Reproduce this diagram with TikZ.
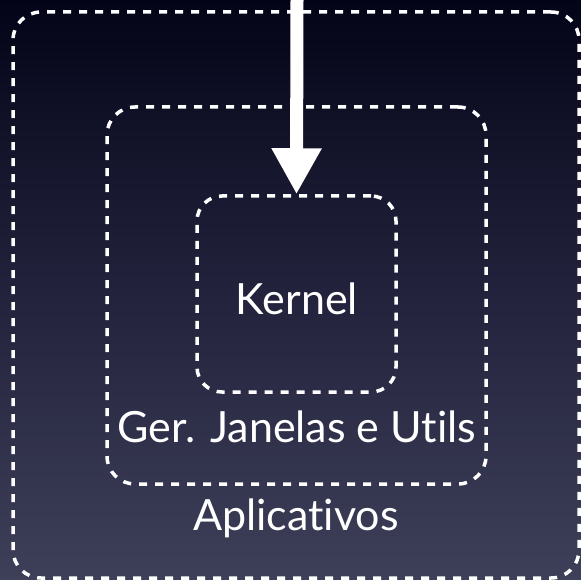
\documentclass[tikz,border=0pt]{standalone}
\usepackage{fontspec}
\setmainfont{Lato}[Ligatures={NoCommon,NoRequired,NoContextual}]
\usetikzlibrary{arrows.meta,positioning}

\definecolor{bgtop}{RGB}{4,4,24}
\definecolor{bgmid}{RGB}{34,34,60}
\definecolor{bgbottom}{RGB}{62,63,88}

\begin{document}
\begin{tikzpicture}[
            x=1pt, y=-1pt,
            layer/.style={
                draw=white,
                line width=3.5pt,
                dash pattern=on 8pt off 8pt,
                rounded corners=28pt,
                inner sep=0pt
            },
            caption/.style={
                text=white,
                anchor=base,
                font=\fontsize{43}{47}\selectfont
            },
            flow/.style={
                draw=white,
                line width=13pt,
                -{Triangle[width=47pt,length=46pt]}
            }
        ]

% Canvas and background
            \useasboundingbox (0,0) rectangle (581,580);
            \shade[top color=bgtop, bottom color=bgbottom, middle color=bgmid] (0,0) rectangle (581,580);

% Layers (outer to inner)
            \node[layer, minimum width=566pt, minimum height=566pt] (apps) at (296,295) {};
            \node[layer, minimum width=379pt, minimum height=377pt] (wm) at (296.5,295.5) {};
            \node[layer, minimum width=199pt, minimum height=196pt, rounded corners=25pt] (kernel) at (296.5,294) {};

% Layer names
            \node[caption] (kernelname) at (297,314) {Kernel};
            \node[caption] (wmname) at (297,442) {Ger. Janelas e Utils};
            \node[caption] (appsname) at (296,530) {Aplicativos};

% Arrow entering from the top
            \coordinate (entry) at (297,0);
            \draw[flow] (entry) -- (kernel.north);

        \end{tikzpicture}
\end{document}
